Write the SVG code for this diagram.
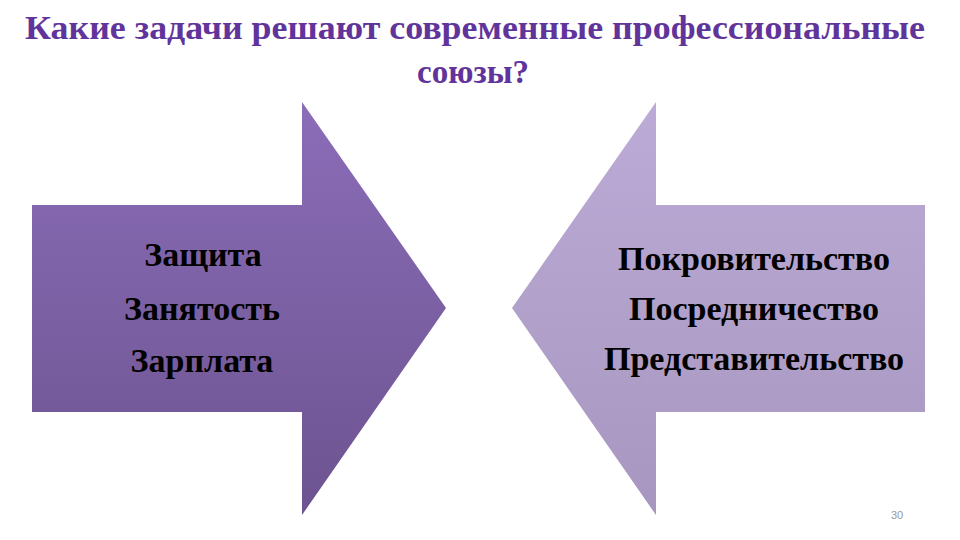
<svg xmlns="http://www.w3.org/2000/svg" width="960" height="540" viewBox="0 0 960 540">
<defs>
<linearGradient id="gL" x1="0" y1="0" x2="0" y2="1">
<stop offset="0" stop-color="#8b6db8"/>
<stop offset="1" stop-color="#6c5390"/>
</linearGradient>
<linearGradient id="gR" x1="0" y1="0" x2="0" y2="1">
<stop offset="0" stop-color="#bcabd6"/>
<stop offset="1" stop-color="#a796bf"/>
</linearGradient>
<style>
.title{font-family:"Liberation Serif",serif;font-weight:bold;font-size:33px;fill:#61349b;text-anchor:middle}
.lbl{font-family:"Liberation Serif",serif;font-weight:bold;font-size:34px;fill:#000;text-anchor:middle}
.num{font-family:"Liberation Sans",sans-serif;font-size:11px;fill:#9a9a9a;text-anchor:middle}
</style>
</defs>
<rect width="960" height="540" fill="#fff"/>
<g id="title">
<text class="title" x="475" y="39" textLength="900" lengthAdjust="spacingAndGlyphs">Какие задачи решают современные профессиональные</text>
<text class="title" x="473" y="83">союзы?</text>
</g>
<g id="connectors"></g>
<g id="left-arrow">
<polygon points="32,205 302,205 302,102 446,308 302,515 302,412 32,412" fill="url(#gL)"/>
<text class="lbl" x="203" y="266">Защита</text>
<text class="lbl" x="202" y="320">Занятость</text>
<text class="lbl" x="202" y="372">Зарплата</text>
</g>
<g id="right-arrow">
<polygon points="925,205 656,205 656,102 512,308 656,515 656,412 925,412" fill="url(#gR)"/>
<text class="lbl" x="754" y="270">Покровительство</text>
<text class="lbl" x="754" y="320">Посредничество</text>
<text class="lbl" x="754" y="370">Представительство</text>
</g>
<text class="num" x="897" y="519">30</text>
</svg>
